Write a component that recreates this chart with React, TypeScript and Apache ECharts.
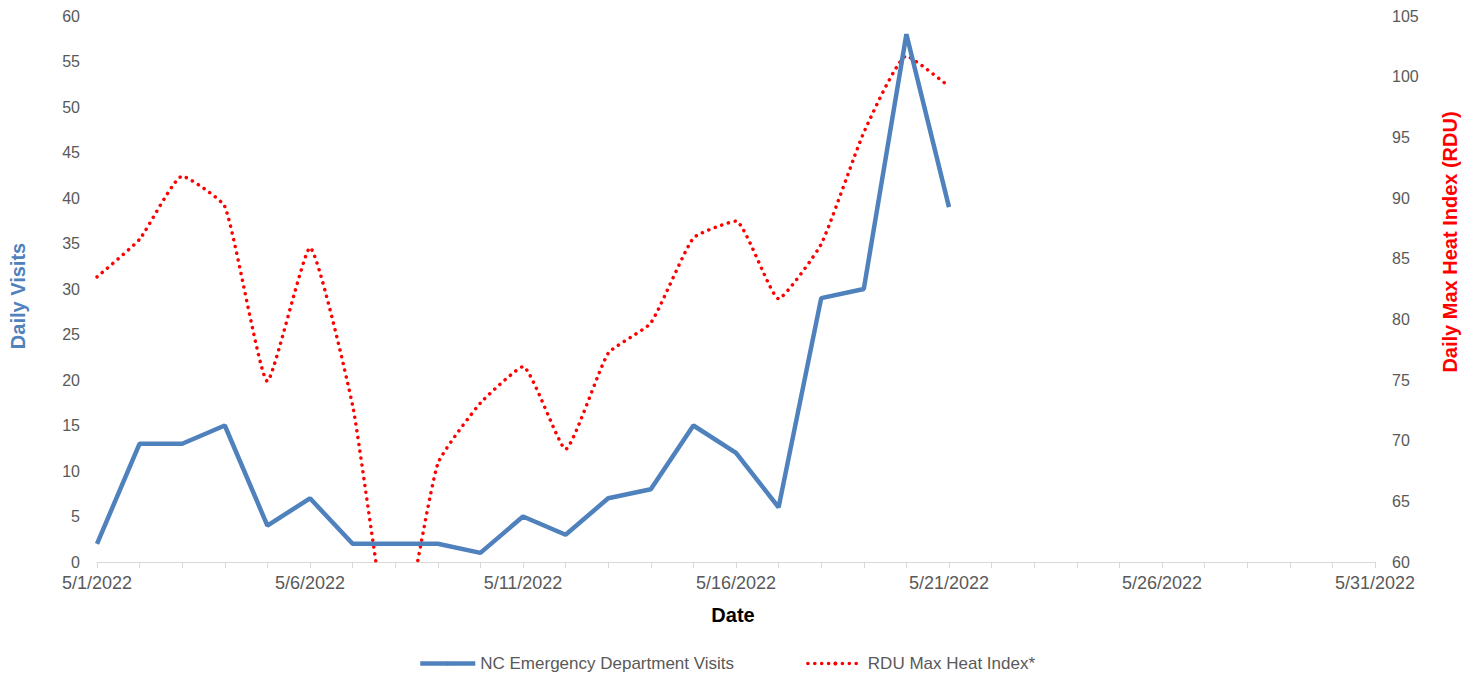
import React, { useEffect, useRef } from "react";
import * as echarts from "echarts";

const dates = [
  "5/1/2022", "5/2/2022", "5/3/2022", "5/4/2022", "5/5/2022", "5/6/2022", "5/7/2022", "5/8/2022",
  "5/9/2022", "5/10/2022", "5/11/2022", "5/12/2022", "5/13/2022", "5/14/2022", "5/15/2022", "5/16/2022",
  "5/17/2022", "5/18/2022", "5/19/2022", "5/20/2022", "5/21/2022", "5/22/2022", "5/23/2022", "5/24/2022",
  "5/25/2022", "5/26/2022", "5/27/2022", "5/28/2022", "5/29/2022", "5/30/2022", "5/31/2022",
];

const edVisits = [2, 13, 13, 15, 4, 7, 2, 2, 2, 1, 5, 3, 7, 8, 15, 12, 6, 29, 30, 58, 39];

const heatIndex = [
  83.5, 86.6, 91.8, 89.3, 74.9, 85.9, 72.9, 51.5, 68.1, 73.1, 76.1, 69.3, 77.2, 79.7, 86.7, 88.1,
  81.7, 86.2, 95.4, 101.7, 99.2,
];

const FONT = "'Liberation Sans', Arial, sans-serif";
const BLUE = "#4f81bd";
const RED = "#ff0000";
const GREY = "#595959";

export default function App() {
  const ref = useRef<HTMLDivElement>(null);
  useEffect(() => {
    if (!ref.current) return;
    const chart = echarts.init(ref.current, null, { renderer: "svg" });
    chart.setOption({
      animation: false,
      backgroundColor: "#ffffff",
      textStyle: { fontFamily: FONT },
      grid: { left: 97, right: 101, top: 16, bottom: 113, containLabel: false },
      legend: {
        left: 413,
        top: 650,
        itemWidth: 55,
        itemHeight: 5,
        itemGap: 72,
        lineStyle: { width: "inherit" },
        textStyle: { color: GREY, fontSize: 17, fontFamily: FONT },
        data: ["NC Emergency Department Visits", "RDU Max Heat Index*"],
      },
      xAxis: {
        type: "category",
        boundaryGap: false,
        data: dates,
        axisLine: { show: true, lineStyle: { color: "#d9d9d9", width: 1 } },
        axisTick: { show: true, interval: 0, length: 6, lineStyle: { color: "#d9d9d9" } },
        axisLabel: { interval: 4, color: GREY, fontSize: 18, margin: 12, fontFamily: FONT },
        splitLine: { show: false },
      },
      yAxis: [
        {
          type: "value",
          min: 0,
          max: 60,
          interval: 5,
          axisLine: { show: false },
          axisTick: { show: false },
          splitLine: { show: false },
          axisLabel: { color: GREY, fontSize: 16, margin: 17, fontFamily: FONT },
        },
        {
          type: "value",
          position: "right",
          min: 60,
          max: 105,
          interval: 5,
          axisLine: { show: false },
          axisTick: { show: false },
          splitLine: { show: false },
          axisLabel: { color: GREY, fontSize: 16, margin: 17, fontFamily: FONT },
        },
      ],
      series: [
        {
          name: "NC Emergency Department Visits",
          type: "line",
          yAxisIndex: 0,
          data: edVisits,
          symbol: "none",
          itemStyle: { color: BLUE },
          lineStyle: { color: BLUE, width: 4.5 },
          z: 3,
        },
        {
          name: "RDU Max Heat Index*",
          type: "line",
          yAxisIndex: 1,
          data: heatIndex,
          smooth: 0.15,
          clip: true,
          symbol: "none",
          itemStyle: { color: RED },
          lineStyle: { color: RED, width: 3.5, type: [0.1, 6.8], cap: "round" },
          z: 2,
        },
      ],
      graphic: [
        {
          type: "text",
          x: 18,
          y: 296,
          rotation: Math.PI / 2,
          style: {
            text: "Daily Visits",
            fontSize: 20,
            fontWeight: "bold",
            fill: BLUE,
            align: "center",
            verticalAlign: "middle",
            fontFamily: FONT,
          },
        },
        {
          type: "text",
          x: 1450,
          y: 242,
          rotation: Math.PI / 2,
          style: {
            text: "Daily Max Heat Index (RDU)",
            fontSize: 20,
            fontWeight: "bold",
            fill: RED,
            align: "center",
            verticalAlign: "middle",
            fontFamily: FONT,
          },
        },
        {
          type: "text",
          x: 733,
          y: 615,
          style: {
            text: "Date",
            fontSize: 20,
            fontWeight: "bold",
            fill: "#000000",
            align: "center",
            verticalAlign: "middle",
            fontFamily: FONT,
          },
        },
      ],
    });
    return () => chart.dispose();
  }, []);
  return (
    <div
      ref={ref}
      style={{ position: "absolute", left: 0, top: 0, width: 1476, height: 675 }}
    />
  );
}
